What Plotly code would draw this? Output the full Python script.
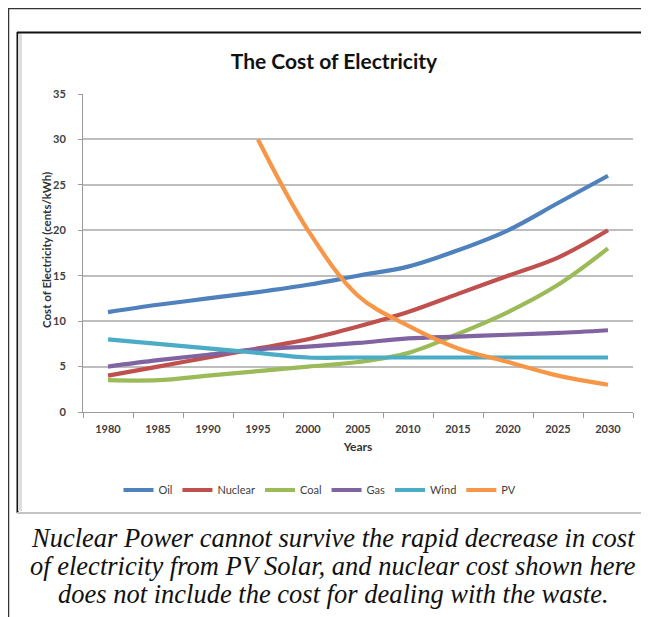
import plotly.graph_objects as go

years = ["1980", "1985", "1990", "1995", "2000", "2005", "2010", "2015", "2020", "2025", "2030"]
oil = [11, 11.8, 12.5, 13.2, 14, 15, 16, 17.8, 20, 23, 26]
nuclear = [4, 5, 6, 7, 8, 9.4, 11, 13, 15, 17, 20]
coal = [3.5, 3.5, 4, 4.5, 5, 5.5, 6.5, 8.6, 11, 14, 18]
gas = [5, 5.7, 6.3, 6.9, 7.2, 7.6, 8.1, 8.3, 8.5, 8.7, 9]
wind = [8, 7.5, 7, 6.5, 6, 6, 6, 6, 6, 6, 6]
pv = [None, None, None, 30, 20, 12.8, 9.5, 7, 5.5, 4, 3]

series = [
    ("Oil", oil, "#4F81BD"),
    ("Nuclear", nuclear, "#C0504D"),
    ("Coal", coal, "#9BBB59"),
    ("Gas", gas, "#8064A2"),
    ("Wind", wind, "#4BACC6"),
    ("PV", pv, "#F79646"),
]

# page body has an 8px margin, so the figure is offset by 8px
OFF = 8
W, H = 649 - OFF, 617 - OFF
L, R, T, B = 83 - OFF, 16, 94 - OFF, 205
PW, PH = W - L - R, H - T - B


def px(x):
    return (x - OFF - L) / PW


def py(y):
    return (H - B - (y - OFF)) / PH


fig = go.Figure()
for name, vals, col in series:
    fig.add_trace(go.Scatter(
        x=years, y=vals, name=name, mode="lines",
        line=dict(color=col, width=4.2, shape="spline", smoothing=1.0),
        connectgaps=False,
    ))

tickfont = dict(family="Lato", size=11, color="#404040", weight="bold")

fig.update_layout(
    width=W, height=H,
    margin=dict(l=L, r=R, t=T, b=B, autoexpand=False),
    paper_bgcolor="white", plot_bgcolor="white",
    title=dict(text="<b>The Cost of Electricity</b>", x=(334 - OFF) / W, xanchor="center",
               y=1 - (62 - OFF) / H, yanchor="middle",
               font=dict(family="Lato", size=21, color="#111111")),
    showlegend=True,
    legend=dict(orientation="h", x=px(320), xanchor="center", y=py(490), yanchor="middle",
                font=dict(family="Lato", size=11, color="#404040"), itemwidth=30,
                bgcolor="rgba(0,0,0,0)"),
    xaxis=dict(type="category", categoryorder="array", categoryarray=years,
               range=[-0.5, len(years) - 0.5], tickson="boundaries",
               ticks="outside", ticklen=5, tickcolor="#9a9a9a", tickwidth=1,
               showline=True, linecolor="#9a9a9a", linewidth=1, showgrid=False,
               tickfont=tickfont, ticklabelstandoff=7,
               title=dict(text="<b>Years</b>", font=dict(family="Lato", size=12, color="#333333"),
                          standoff=8)),
    yaxis=dict(range=[0, 35], dtick=5, tick0=0, ticks="outside", ticklen=4,
               tickcolor="#9a9a9a", showline=True, linecolor="#9a9a9a", linewidth=1,
               showgrid=True, gridcolor="#BEBEBE", gridwidth=1.5, zeroline=False,
               tickfont=tickfont, ticklabelstandoff=10),
)

fig.add_annotation(text="<b>Cost of Electricity (cents/kWh)</b>", textangle=-90,
                   xref="paper", yref="paper", x=px(46), y=py(250),
                   xanchor="center", yanchor="middle", showarrow=False,
                   font=dict(family="Lato", size=11.5, color="#333333"))

shapes = [
    # outer frame
    dict(type="line", x0=px(8), x1=px(649), y0=py(8.5), y1=py(8.5), line=dict(color="#333333", width=1.5)),
    dict(type="line", x0=px(8.5), x1=px(8.5), y0=py(8), y1=py(617), line=dict(color="#333333", width=1.5)),
    # inner chart box
    dict(type="line", x0=px(17), x1=px(644), y0=py(32.5), y1=py(32.5), line=dict(color="#111111", width=2)),
    dict(type="line", x0=px(17.5), x1=px(17.5), y0=py(32), y1=py(513), line=dict(color="#111111", width=2)),
    dict(type="line", x0=px(20), x1=px(20), y0=py(34), y1=py(511), line=dict(color="#dddddd", width=4)),
    dict(type="line", x0=px(643.5), x1=px(643.5), y0=py(32), y1=py(513), line=dict(color="#d4d4d4", width=1)),
    dict(type="line", x0=px(17), x1=px(644), y0=py(513), y1=py(513), line=dict(color="#c4c4c4", width=2)),
]
for s in shapes:
    s.update(xref="paper", yref="paper", layer="above")
fig.update_layout(shapes=shapes)

caption = [
    "Nuclear Power cannot survive the rapid decrease in cost",
    "of electricity from PV Solar, and nuclear cost shown here",
    "does not include the cost for dealing with the waste.",
]
for i, line in enumerate(caption):
    fig.add_annotation(text="<i>" + line + "</i>", xref="paper", yref="paper",
                       x=px(333), y=py(538 + 28 * i), xanchor="center", yanchor="middle",
                       showarrow=False,
                       font=dict(family="Liberation Serif", size=26.5, color="#111111"))

fig.write_html("out.html")
